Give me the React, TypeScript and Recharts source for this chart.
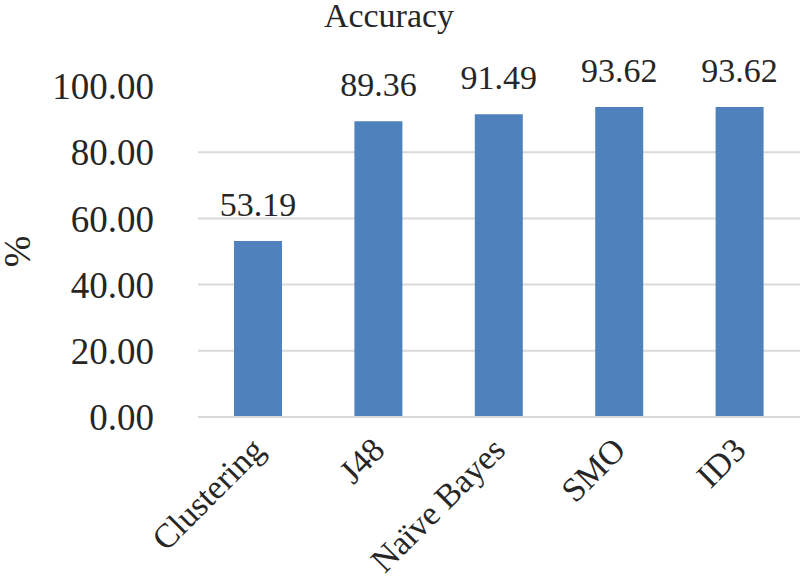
import { BarChart, Bar, XAxis, YAxis, CartesianGrid, LabelList } from 'recharts'

const categories = ['Clustering', 'J48', 'Naïve Bayes', 'SMO', 'ID3']
const accuracy = [53.19, 89.36, 91.49, 93.62, 93.62]
const yTicks = [0, 20, 40, 60, 80, 100]

const data = categories.map((name, i) => ({ name, accuracy: accuracy[i] }))

const FONT = '"Liberation Serif", "DejaVu Serif", serif'
const TEXT = '#262626'

function XTick({ x, y, payload }: any) {
  return (
    <g transform={`translate(${x + 8},${y + 27})`}>
      <text
        textAnchor="end"
        transform="rotate(-45)"
        fontFamily={FONT}
        fontSize={34}
        fill={TEXT}
      >
        {payload.value}
      </text>
    </g>
  )
}

function YTitle({ viewBox }: any) {
  const cy = viewBox.y + viewBox.height / 2
  return (
    <text
      x={30}
      y={cy}
      transform={`rotate(-90 30 ${cy})`}
      textAnchor="middle"
      fontFamily={FONT}
      fontSize={38}
      fill={TEXT}
    >
      %
    </text>
  )
}

export default function App() {
  return (
    <div style={{ position: 'absolute', left: 0, top: 0, width: 800, height: 577, background: '#fff' }}>
      <div
        style={{
          position: 'absolute',
          left: 0,
          width: 778,
          top: 0,
          lineHeight: '32px',
          textAlign: 'center',
          fontFamily: FONT,
          fontSize: 34,
          color: TEXT,
        }}
      >
        Accuracy
      </div>
      <BarChart
        width={800}
        height={577}
        data={data}
        margin={{ top: 86, right: 0, left: 0, bottom: 10 }}
      >
        <CartesianGrid vertical={false} stroke="#d9d9d9" strokeWidth={2} horizontalValues={[0, 20, 40, 60, 80]} />
        <XAxis
          dataKey="name"
          interval={0}
          height={150}
          tickLine={false}
          axisLine={{ stroke: '#d9d9d9', strokeWidth: 2 }}
          tick={<XTick />}
        />
        <YAxis
          width={198}
          domain={[0, 100]}
          ticks={yTicks}
          tickFormatter={(v) => v.toFixed(2)}
          axisLine={false}
          tickLine={false}
          tickMargin={38}
          tick={{ fontFamily: FONT, fontSize: 37, fill: TEXT }}
          label={<YTitle />}
        />
        <Bar dataKey="accuracy" fill="#4F81BD" barSize={48} isAnimationActive={false}>
          <LabelList
            dataKey="accuracy"
            position="top"
            offset={25}
            formatter={(v: any) => Number(v).toFixed(2)}
            style={{ fontFamily: FONT, fontSize: 34, fill: TEXT }}
          />
        </Bar>
      </BarChart>
    </div>
  )
}
